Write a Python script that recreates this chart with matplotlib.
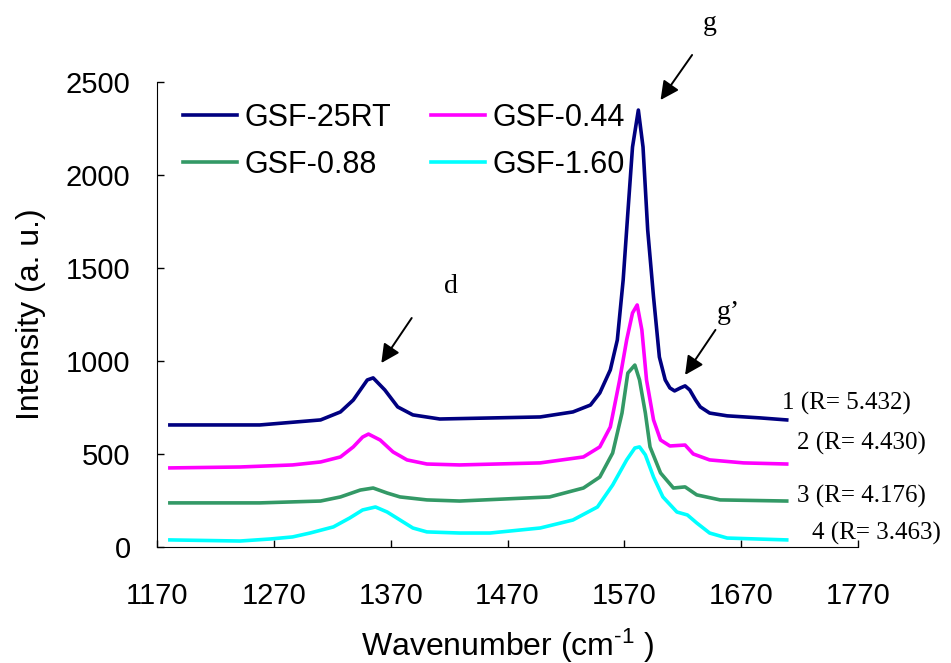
import matplotlib
matplotlib.use('Agg')
import matplotlib.pyplot as plt

# Raman spectra
wn_25rt = [1181, 1258, 1310, 1327, 1338, 1350, 1355, 1365, 1376, 1389, 1412, 1498, 1526,
           1541, 1549, 1558, 1564, 1569, 1573, 1577, 1582, 1586, 1590, 1595, 1600, 1605,
           1609, 1613, 1618, 1622, 1626, 1631, 1635, 1643, 1658, 1686, 1709]
int_25rt = [656, 656, 683, 726, 790, 898, 909, 844, 753, 710, 688, 699, 726,
            763, 828, 952, 1113, 1435, 1796, 2150, 2349, 2150, 1704, 1344, 1021, 898,
            855, 839, 855, 866, 844, 790, 753, 720, 705, 694, 683]

wn_044 = [1181, 1241, 1286, 1310, 1327, 1338, 1346, 1351, 1361, 1372, 1384, 1401, 1429,
          1498, 1535, 1549, 1558, 1566, 1572, 1577, 1581, 1585, 1589, 1595, 1601, 1609,
          1622, 1629, 1643, 1672, 1709]
int_044 = [425, 430, 441, 457, 484, 538, 591, 607, 575, 511, 468, 446, 441,
           452, 484, 538, 645, 898, 1113, 1258, 1301, 1167, 898, 683, 575, 543,
           548, 500, 468, 452, 446]

wn_088 = [1181, 1258, 1310, 1327, 1344, 1355, 1367, 1378, 1401, 1429, 1506, 1535, 1549,
          1560, 1568, 1573, 1579, 1583, 1588, 1592, 1601, 1612, 1622, 1632, 1652, 1709]
int_088 = [237, 237, 247, 269, 306, 317, 290, 269, 253, 247, 269, 317, 376,
           505, 720, 935, 978, 898, 720, 538, 398, 317, 323, 280, 253, 247]

wn_160 = [1181, 1241, 1267, 1286, 1301, 1321, 1335, 1346, 1357, 1367, 1378, 1389, 1401,
          1429, 1455, 1498, 1526, 1547, 1560, 1572, 1579, 1583, 1588, 1595, 1603, 1615,
          1624, 1632, 1643, 1658, 1709]
int_160 = [38, 32, 43, 54, 75, 108, 156, 199, 215, 188, 145, 102, 81,
           75, 75, 102, 145, 215, 333, 468, 532, 538, 495, 376, 269, 188,
           172, 129, 75, 48, 38]

names = ['GSF-25RT', 'GSF-0.44', 'GSF-0.88', 'GSF-1.60']
colors = ['#000080', '#FF00FF', '#339966', '#00FFFF']
r_labels = ['1 (R= 5.432)', '2 (R= 4.430)', '3 (R= 4.176)', '4 (R= 3.463)']
r_pos = [(1705, 774), (1718, 554), (1718, 269), (1731, 75)]

plt.rcParams['font.family'] = ['Liberation Sans', 'DejaVu Sans']
plt.rcParams['mathtext.fontset'] = 'custom'
plt.rcParams['mathtext.rm'] = 'Liberation Sans'
plt.rcParams['mathtext.default'] = 'regular'

fig = plt.figure(figsize=(9.51, 6.63), dpi=100)
ax = fig.add_axes([0.1651, 0.175, 0.7371, 0.7014])

series = [(wn_25rt, int_25rt), (wn_044, int_044), (wn_088, int_088), (wn_160, int_160)]
lines = []
for (x, y), name, c in zip(series, names, colors):
    ln, = ax.plot(x, y, color=c, lw=2.6, label=name, solid_joinstyle='round')
    lines.append(ln)

ax.set_xlim(1170, 1770)
ax.set_ylim(0, 2500)
ax.set_xticks(range(1170, 1771, 100))
ax.set_yticks(range(0, 2501, 500))
ax.tick_params(axis='both', direction='in', length=5, width=1, labelsize=21)
ax.tick_params(axis='x', pad=25)
ax.tick_params(axis='y', pad=19)
for s in ['top', 'right']:
    ax.spines[s].set_visible(False)

ax.set_xlabel(r'Wavenumber (cm$^{\text{-}1}$ )', fontsize=23, labelpad=12)
ax.set_ylabel('Intensity (a. u.)', fontsize=23, labelpad=14)

# legend fills by column, so reorder to get rows 25RT/0.44 and 0.88/1.60
order = [0, 2, 1, 3]
ax.legend([lines[i] for i in order], [names[i] for i in order],
          ncol=2, loc='upper left', bbox_to_anchor=(0.037, 0.955), frameon=False,
          fontsize=22, borderpad=0, borderaxespad=0, handlelength=1.77,
          handletextpad=0.25, columnspacing=1.3, labelspacing=0.55)

# peak labels and arrows
serif = ['Liberation Serif', 'DejaVu Serif']
arrows = [('g', (1643, 2812), (1628, 2645), (1601, 2403)),
          ('d', (1422, 1398), (1388, 1231), (1362, 989)),
          ('g\u2019', (1659, 1263), (1648, 1167), (1622, 925))]
for txt, tpos, tail, head in arrows:
    ax.text(tpos[0], tpos[1], txt, family=serif, fontsize=20, ha='center', va='center',
            clip_on=False)
    ax.annotate('', xy=head, xytext=tail, annotation_clip=False,
                arrowprops=dict(arrowstyle='-|>', mutation_scale=28, lw=1.4,
                                color='black', shrinkA=0, shrinkB=0))

for lab, (x, y) in zip(r_labels, r_pos):
    ax.text(x, y, lab, family=serif, fontsize=18, ha='left', va='center', clip_on=False)

fig.savefig('out.png', dpi=100)
